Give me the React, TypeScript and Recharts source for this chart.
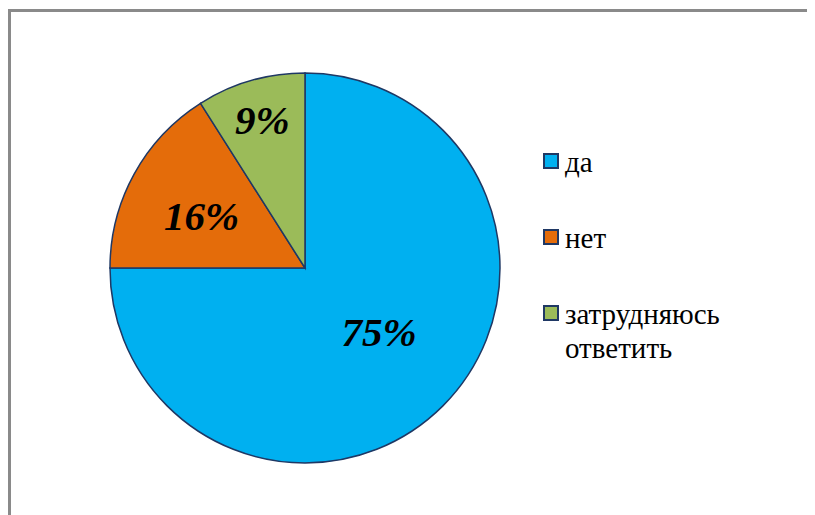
import React from "react";
import { PieChart, Pie, Cell, Legend } from "recharts";

const categories = ["да", "нет", "затрудняюсь ответить"];
const values = [75, 16, 9];
const colors = ["#00B0F0", "#E46C0A", "#9BBB59"];
const labelRadius = [0.501, 0.592, 0.792];
const labelAngleShift = [4.4, 2.3, -0.2];

const data = categories.map((name, i) => ({ name, value: values[i] }));

const RAD = Math.PI / 180;
const SERIF = "Liberation Serif";

const renderLabel = (props: any) => {
  const { cx, cy, midAngle, outerRadius, index, value } = props;
  const r = outerRadius * labelRadius[index];
  const a = midAngle + labelAngleShift[index];
  const x = cx + r * Math.cos(-a * RAD);
  const y = cy + r * Math.sin(-a * RAD);
  return (
    <text
      key={`lbl-${index}`}
      x={x}
      y={y}
      textAnchor="middle"
      dominantBaseline="central"
      fill="#000"
      fontFamily={SERIF}
      fontWeight={700}
      fontStyle="italic"
      fontSize={41}
    >
      {`${value}%`}
    </text>
  );
};

const LegendContent = () => (
  <div style={{ fontFamily: SERIF, fontSize: 29, color: "#000" }}>
    {categories.map((c, i) => (
      <div key={c} style={{ display: "flex", alignItems: "flex-start", height: 76, fontFamily: SERIF }}>
        <div
          style={{
            width: 12,
            height: 12,
            background: colors[i],
            border: "2px solid #1F3864",
            marginTop: 8,
            marginRight: 6,
            flexShrink: 0,
          }}
        />
        <div style={{ lineHeight: "34px", width: 220, fontFamily: SERIF }}>
          {c === "затрудняюсь ответить" ? (
            <>
              затрудняюсь
              <br />
              ответить
            </>
          ) : (
            c
          )}
        </div>
      </div>
    ))}
  </div>
);

export default function App() {
  return (
    <div style={{ position: "relative", width: 807, height: 507, overflow: "hidden", background: "#fff", fontFamily: SERIF }}>
      <div
        style={{
          position: "absolute",
          left: 0,
          top: 1,
          width: 900,
          height: 600,
          border: "3px solid #8A8A8A",
          boxSizing: "border-box",
        }}
      />
      <div style={{ position: "absolute", left: 0, top: 0, fontFamily: SERIF }}>
        <PieChart width={807} height={507} style={{ fontFamily: SERIF }}>
          <Pie
            data={data}
            dataKey="value"
            nameKey="name"
            cx={292}
            cy={255}
            outerRadius={195}
            startAngle={90}
            endAngle={-270}
            stroke="#1F3864"
            strokeWidth={1.5}
            label={renderLabel}
            labelLine={false}
            isAnimationActive={false}
          >
            {data.map((d, i) => (
              <Cell key={d.name} fill={colors[i]} />
            ))}
          </Pie>
          <Legend
            content={<LegendContent />}
            wrapperStyle={{ position: "absolute", left: 535, top: 137, width: 260, fontFamily: SERIF }}
          />
        </PieChart>
      </div>
    </div>
  );
}
